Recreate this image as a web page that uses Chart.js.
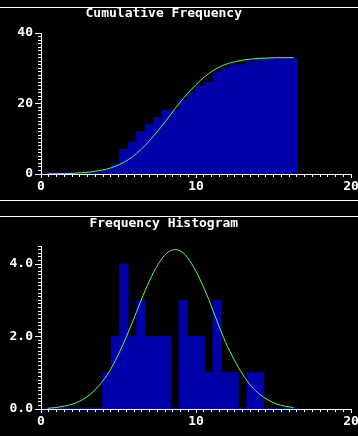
<!DOCTYPE html>
<html>
<head>
<meta charset="utf-8">
<script src="https://cdn.jsdelivr.net/npm/chart.js@4/dist/chart.umd.min.js"></script>
<style>
  html, body { margin: 0; padding: 0; background: #000; width: 358px; height: 436px; overflow: hidden; }
  .panel { position: absolute; left: 0; width: 358px; }
  .rule { position: absolute; left: 0; width: 358px; height: 1px; background: #fff; }
  canvas { display: block; }
</style>
</head>
<body>
<div class="panel" style="top:0;height:200px"><canvas id="cum" width="358" height="200"></canvas></div>
<div class="panel" style="top:200px;height:236px"><canvas id="hist" width="358" height="236"></canvas></div>
<div class="rule" style="top:7px"></div>
<div class="rule" style="top:200px"></div>
<div class="rule" style="top:216px"></div>
<script>
// ---- data ----
const binCenters = [0.424, 0.971, 1.518, 2.065, 2.612, 3.159, 3.706, 4.253, 4.800, 5.347,
                    5.894, 6.441, 6.988, 7.535, 8.082, 8.629, 9.176, 9.723, 10.270, 10.817,
                    11.364, 11.911, 12.458, 13.005, 13.552, 14.099, 14.646, 15.193, 15.740, 16.287];
const frequency = [0, 0, 0, 0, 0, 0, 0, 1, 2, 4, 2, 3, 2, 2, 2, 0, 3, 2, 2, 1, 3, 1, 1, 0, 1, 1, 0, 0, 0, 0];
const cumulative = [0, 0, 0, 0, 0, 0, 0, 1, 3, 7, 9, 12, 14, 16, 18, 18, 21, 23, 25, 26, 29, 30, 31, 31, 32, 33, 33, 33, 33, 33];
const normalCurve = [0.02, 0.04, 0.08, 0.14, 0.24, 0.40, 0.63, 0.93, 1.34, 1.84,
                     2.39, 2.98, 3.53, 3.98, 4.29, 4.40, 4.31, 4.01, 3.57, 3.03,
                     2.42, 1.84, 1.37, 0.96, 0.64, 0.41, 0.25, 0.14, 0.08, 0.04];
const cumulativeCurve = [0.05, 0.08, 0.12, 0.20, 0.35, 0.55, 0.95, 1.4, 2.2, 3.3,
                         4.85, 6.9, 9.4, 12.2, 15.2, 18.4, 21.4, 24.1, 26.5, 28.5,
                         30.0, 31.1, 31.8, 32.3, 32.6, 32.8, 32.9, 33.0, 33.0, 33.0];
const xTickLabels = [0, 10, 20];
const cumTickLabels = [0, 20, 40];
const freqTickLabels = [0, 2, 4];

// ---- styling ----
const BLUE = '#0000AA';
const GREEN = '#55FF55';
const WHITE = '#FFFFFF';
const MONO = "'DejaVu Sans Mono', 'Liberation Mono', monospace";
const tickFont = { family: MONO, size: 13, weight: 'bold' };

function near(v, list) { return list.some(t => Math.abs(v - t) < 1e-6); }

function xScale(axisHeight) {
  return {
    type: 'linear', min: 0, max: 20, offset: false,
    afterFit(s) { s.paddingLeft = 0; s.paddingRight = 0; s.height = axisHeight; },
    ticks: {
      stepSize: 0.5, autoSkip: false, maxRotation: 0, minRotation: 0,
      color: WHITE, font: tickFont, padding: 1,
      callback: v => near(v, xTickLabels) ? String(Math.round(v)) : ''
    },
    grid: {
      offset: false, drawOnChartArea: false, drawTicks: true, tickLength: 4,
      tickColor: WHITE, tickWidth: 1,
      tickBorderDash: c => (c.tick && near(c.tick.value, xTickLabels)) ? [] : [2, 10]
    },
    border: { display: true, color: WHITE, width: 1 }
  };
}

function yScale(max, step, labels, fmt) {
  return {
    type: 'linear', min: 0, max: max,
    afterFit(s) { s.width = 41; s.paddingTop = 0; s.paddingBottom = 0; },
    ticks: {
      stepSize: step, autoSkip: false, color: WHITE, font: tickFont, padding: 2,
      callback: v => near(v, labels) ? fmt(v) : ''
    },
    grid: {
      drawOnChartArea: false, drawTicks: true, tickLength: 6, tickColor: WHITE, tickWidth: 1,
      tickBorderDash: c => (c.tick && near(c.tick.value, labels)) ? [] : [3, 3],
      tickBorderDashOffset: c => (c.tick && near(c.tick.value, labels)) ? 0 : 3
    },
    border: { display: true, color: WHITE, width: 1 }
  };
}

function makeChart(id, title, titlePad, axisHeight, barValues, curveValues, yOpts) {
  return new Chart(document.getElementById(id), {
    type: 'bar',
    data: {
      datasets: [
        {
          type: 'line',
          data: binCenters.map((x, i) => ({ x: x, y: curveValues[i] })),
          borderColor: GREEN, borderWidth: 1, pointRadius: 0,
          cubicInterpolationMode: 'monotone', fill: false, order: 0
        },
        {
          type: 'bar',
          data: binCenters.map((x, i) => ({ x: x, y: barValues[i] })),
          backgroundColor: BLUE, borderWidth: 0, inflateAmount: 0.6,
          barPercentage: 1.04, categoryPercentage: 1, minBarLength: 1, order: 1
        }
      ]
    },
    options: {
      responsive: false, animation: false, devicePixelRatio: 1,
      layout: { padding: { left: 0, right: 7, top: 0, bottom: 0 } },
      plugins: {
        legend: { display: false },
        tooltip: { enabled: false },
        title: {
          display: true, text: title, color: WHITE,
          font: { family: MONO, size: 13, weight: 'bold' },
          padding: titlePad
        }
      },
      scales: {
        x: xScale(axisHeight),
        y: yOpts
      }
    }
  });
}

makeChart('cum', 'Cumulative Frequency   ', { top: 6, bottom: 11.4 }, 26,
  cumulative, cumulativeCurve,
  yScale(40, 1, cumTickLabels, v => String(Math.round(v))));

makeChart('hist', 'Frequency Histogram   ', { top: 16, bottom: 14.4 }, 27,
  frequency, normalCurve,
  yScale(4.5, 0.1, freqTickLabels, v => v.toFixed(1)));
</script>
</body>
</html>
